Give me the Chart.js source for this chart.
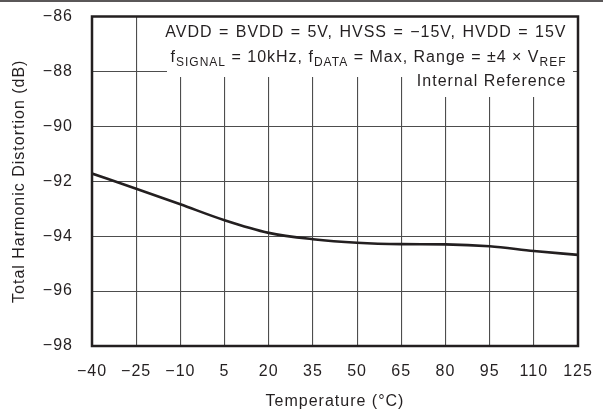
<!DOCTYPE html>
<html>
<head>
<meta charset="utf-8">
<script src="https://cdn.jsdelivr.net/npm/chart.js@4"></script>
<style>
html,body{margin:0;padding:0;background:#fff;}
canvas{display:block;}
</style>
</head>
<body>
<canvas id="c" width="603" height="413"></canvas>
<script>
const temperatures = [-40, -25, -10, 5, 20, 35, 50, 65, 80, 95, 110, 125];
const thd = [-91.72, -92.27, -92.84, -93.42, -93.88, -94.11, -94.24, -94.29, -94.30, -94.37, -94.54, -94.68];
const xTicks = [-40, -25, -10, 5, 20, 35, 50, 65, 80, 95, 110, 125];
const yTicks = [-98, -96, -94, -92, -90, -88, -86];
const xTitle = 'Temperature (°C)';
const yTitle = 'Total Harmonic Distortion (dB)';
const noteLines = [
  [['AVDD = BVDD = 5V, HVSS = \u221215V, HVDD = 15V', 0]],
  [['f', 0], ['SIGNAL', 1], [' = 10kHz, f', 0], ['DATA', 1], [' = Max, Range = \u00b14 \u00d7 V', 0], ['REF', 1]],
  [['Internal Reference', 0]]
];

const INK = '#231f20';
const FONT = '"Liberation Sans", Arial, Helvetica, sans-serif';
const fmt = v => (v < 0 ? '\u2212' + Math.abs(v) : String(v));

function setSpacing(chart) {
  if ('letterSpacing' in chart.ctx) chart.ctx.letterSpacing = '1px';
}

const notePlugin = {
  id: 'notes',
  beforeInit: setSpacing,
  beforeLayout: setSpacing,
  beforeDraw: setSpacing,
  beforeDatasetsDraw(chart) {
    const ctx = chart.ctx;
    const a = chart.chartArea;
    ctx.save();
    ctx.fillStyle = '#fff';
    ctx.fillRect(167, a.top, a.right - 5 - 167, 77 - a.top);
    ctx.fillRect(410, 76, a.right - 5 - 410, 97 - 76);
    ctx.fillStyle = INK;
    ctx.textBaseline = 'alphabetic';
    ctx.textAlign = 'left';
    const rightX = 566.5;
    const baselines = [36.5, 61.5, 86];
    const wordSp = ['1px', '0px', '0px'];
    noteLines.forEach((parts, i) => {
      if ('wordSpacing' in ctx) ctx.wordSpacing = wordSp[i];
      let w = 0;
      parts.forEach(([t, sub]) => {
        ctx.font = (sub ? '12px ' : '16px ') + FONT;
        w += ctx.measureText(t).width;
      });
      let x = rightX - w;
      parts.forEach(([t, sub]) => {
        ctx.font = (sub ? '12px ' : '16px ') + FONT;
        ctx.fillText(t, x, baselines[i] + (sub ? 4 : 0));
        x += ctx.measureText(t).width;
      });
    });
    if ('wordSpacing' in ctx) ctx.wordSpacing = '0px';
    ctx.restore();
  },
  afterDatasetsDraw(chart) {
    const ctx = chart.ctx;
    const a = chart.chartArea;
    ctx.save();
    ctx.strokeStyle = INK;
    ctx.lineWidth = 2.5;
    ctx.strokeRect(a.left, a.top, a.right - a.left, a.bottom - a.top);
    ctx.restore();
  },
  afterDraw(chart) {
    const ctx = chart.ctx;
    ctx.save();
    ctx.strokeStyle = INK;
    ctx.lineWidth = 1.5;
    ctx.beginPath();
    ctx.moveTo(0, 0.9);
    ctx.lineTo(chart.width, 0.9);
    ctx.stroke();
    ctx.restore();
  }
};

function zeroPad(s) {
  s.paddingTop = 0; s.paddingBottom = 0; s.paddingLeft = 0; s.paddingRight = 0;
}

new Chart(document.getElementById('c'), {
  type: 'line',
  data: {
    datasets: [{
      data: temperatures.map((t, i) => ({x: t, y: thd[i]})),
      borderColor: INK,
      borderWidth: 2.6,
      pointRadius: 0,
      fill: false,
      cubicInterpolationMode: 'monotone'
    }]
  },
  options: {
    responsive: false,
    animation: false,
    layout: {padding: {top: 16.5, right: 25, bottom: 0, left: 0}},
    plugins: {legend: {display: false}, tooltip: {enabled: false}},
    scales: {
      x: {
        type: 'linear',
        min: -40, max: 125,
        afterBuildTicks: s => { s.ticks = xTicks.map(v => ({value: v})); },
        afterFit: s => { s.height = 67; zeroPad(s); },
        grid: {color: '#4d4d4d', lineWidth: 1.1, drawTicks: false},
        border: {display: false},
        ticks: {color: INK, font: {family: FONT, size: 16}, padding: 16, callback: v => fmt(v), maxRotation: 0, autoSkip: false},
        title: {display: true, text: xTitle, color: INK, font: {family: FONT, size: 16}, padding: {top: 0, bottom: 2}}
      },
      y: {
        type: 'linear',
        min: -98, max: -86,
        afterBuildTicks: s => { s.ticks = yTicks.map(v => ({value: v})); },
        afterFit: s => { s.width = 92; zeroPad(s); },
        grid: {color: '#4d4d4d', lineWidth: 1.1, drawTicks: false},
        border: {display: false},
        ticks: {color: INK, font: {family: FONT, size: 16}, padding: 19, callback: v => fmt(v), autoSkip: false},
        title: {display: true, text: yTitle, color: INK, font: {family: FONT, size: 16}, padding: {top: 10, bottom: 0}}
      }
    }
  },
  plugins: [notePlugin]
});
</script>
</body>
</html>
